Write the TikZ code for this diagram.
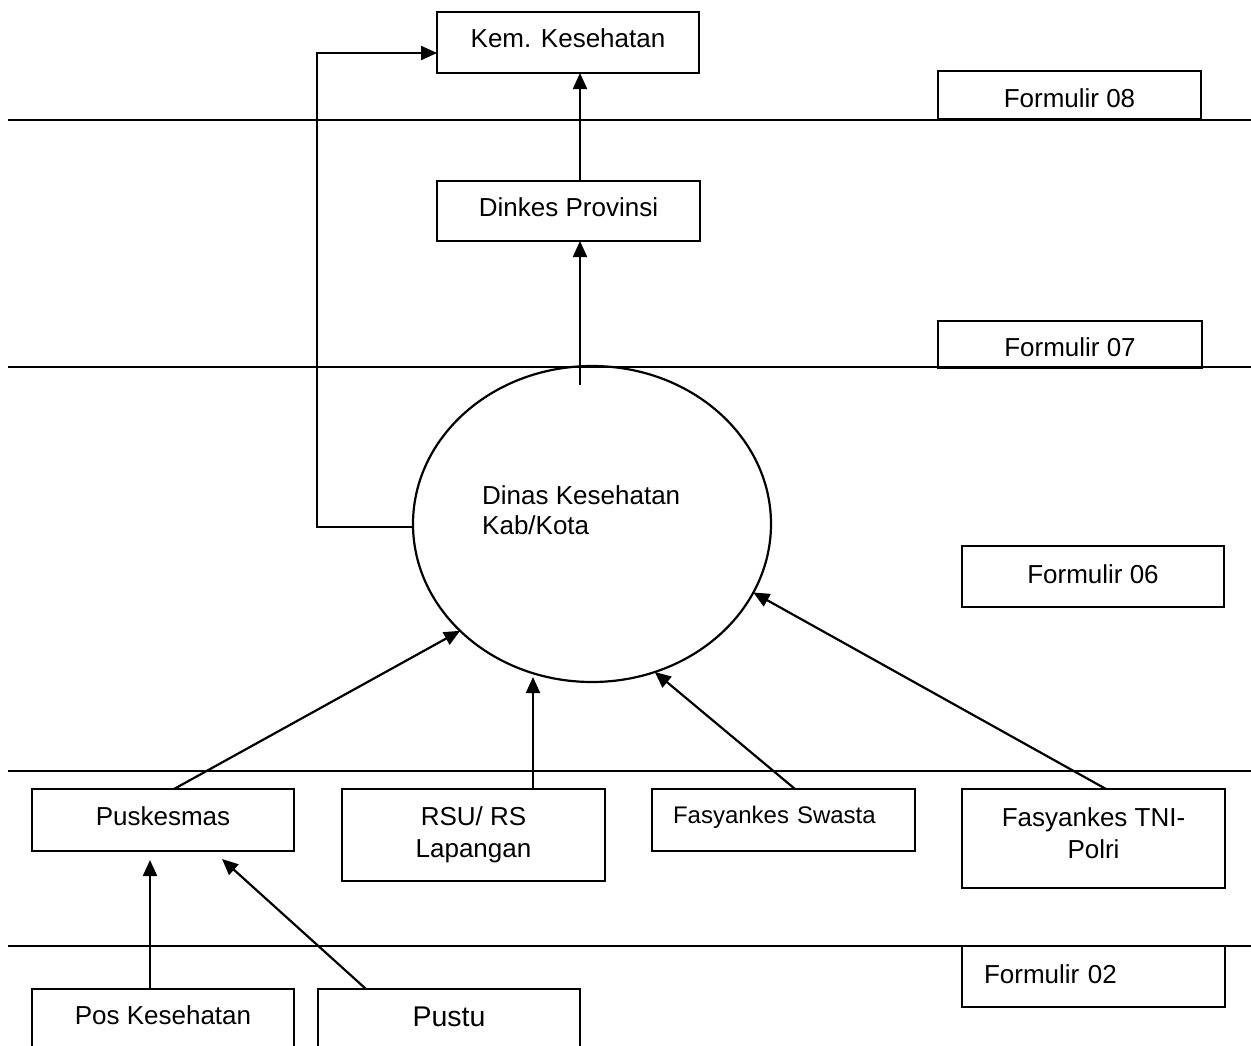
\documentclass[tikz,border=0pt]{standalone}
\usepackage{fontspec}
\setmainfont{Liberation Sans}
\usetikzlibrary{arrows.meta,shapes.geometric,calc}
\begin{document}
\begin{tikzpicture}[x=1pt,y=-1pt,
  lw/.style={line width=2.2pt},
  box/.style={draw,lw,inner sep=0pt,outer sep=0pt,minimum width=263pt,
    font=\fontsize{26}{31.5}\selectfont,text height=19pt,text depth=9pt},
  boxlow/.style={box,text height=26pt,text depth=1.3pt},
  boxmid/.style={box,text height=19pt,text depth=5.4pt},
  multibox/.style={draw,lw,inner sep=0pt,outer sep=0pt,minimum width=263pt,
    font=\fontsize{26}{31.5}\selectfont,align=center},
  arr/.style={lw,-{Triangle[length=16pt,width=14pt]}},
  sepline/.style={lw}]
\clip (0,0) rectangle (1251,1045);
\fill[white] (0,0) rectangle (1251,1045);

% level separator lines
\draw[sepline] (8,120) -- (1251,120);
\draw[sepline] (8,367) -- (1251,367);
\draw[sepline] (8,771) -- (1251,771);
\draw[sepline] (8,946) -- (1251,946);

% nodes
\node[box,minimum width=262pt,minimum height=61pt] (kem) at (568,42.5) {Kem. Kesehatan};
\node[boxlow,minimum height=48pt] (f08) at (1069.5,95) {Formulir 08};
\node[box,minimum height=60pt] (dinkes) at (568.5,211) {Dinkes Provinsi};
\node[boxlow,minimum width=264pt,minimum height=47pt] (f07) at (1070,344.5) {Formulir 07};
\node[boxmid,minimum width=262pt,minimum height=61pt] (f06) at (1093,576.5) {Formulir 06};

\node[draw,lw,ellipse,inner sep=0pt,outer sep=0pt,minimum width=358pt,minimum height=316pt] (dk) at (592,524) {};
\node[anchor=north west,inner sep=0pt,align=left,font=\fontsize{26}{30}\selectfont] (dktext) at (482,485) {Dinas Kesehatan\\Kab/Kota};

\node[box,minimum width=262pt,minimum height=62pt] (pusk) at (163,820) {Puskesmas};
\node[multibox,minimum height=92pt] (rsu) at (473.5,835) {RSU/ RS\\Lapangan};
\node[box,minimum height=62pt,font=\fontsize{24}{29}\selectfont,text height=17.5pt,text depth=10.3pt,
      text width=221pt,align=left,inner xsep=21pt] (swasta) at (783.5,820) {Fasyankes Swasta};
\node[multibox,minimum height=99pt] (tni) at (1093.5,838.5) {Fasyankes TNI-\\Polri\rule[-11pt]{0pt}{11pt}};
\node[boxmid,minimum height=61pt,text width=219pt,align=left,inner xsep=22pt] (f02) at (1093.5,976.5) {Formulir 02};

\node[box,minimum width=262pt,minimum height=80pt,text height=19pt,text depth=28.4pt] (pos) at (163,1029) {Pos Kesehatan};
\node[box,minimum width=262pt,minimum height=80pt,font=\fontsize{28.5}{34}\selectfont,text height=20.8pt,text depth=25pt] (pustu) at (449,1029) {Pustu};

% connectors
\draw[arr] ($(dinkes.north)+(11.5,0)$) -- ($(kem.south)+(12,0)$);
\coordinate (dkin) at (580,385);
\draw[arr] (dkin) -- (dkin |- dinkes.south);
\draw[arr] (dk.181) -- ++(-96,0) |- ($(kem.west)+(0,10.5)$);

\draw[arr] ($(pusk.north)+(11,0)$) -- (dk.219);
\coordinate (rsutip) at (533,677);
\draw[arr] (rsu.north -| rsutip) -- (rsutip);
\draw[arr] ($(swasta.north)+(11.5,0)$) -- (dk.293);
\draw[arr] ($(tni.north)+(12.5,0)$) -- (dk.337);

\draw[arr] ($(pos.north)+(-13,0)$) -- ($(pusk.south)+(-13,9)$);
\draw[arr] ($(pustu.north)+(-83,0)$) -- ($(pusk.south)+(59,8)$);
\end{tikzpicture}
\end{document}
